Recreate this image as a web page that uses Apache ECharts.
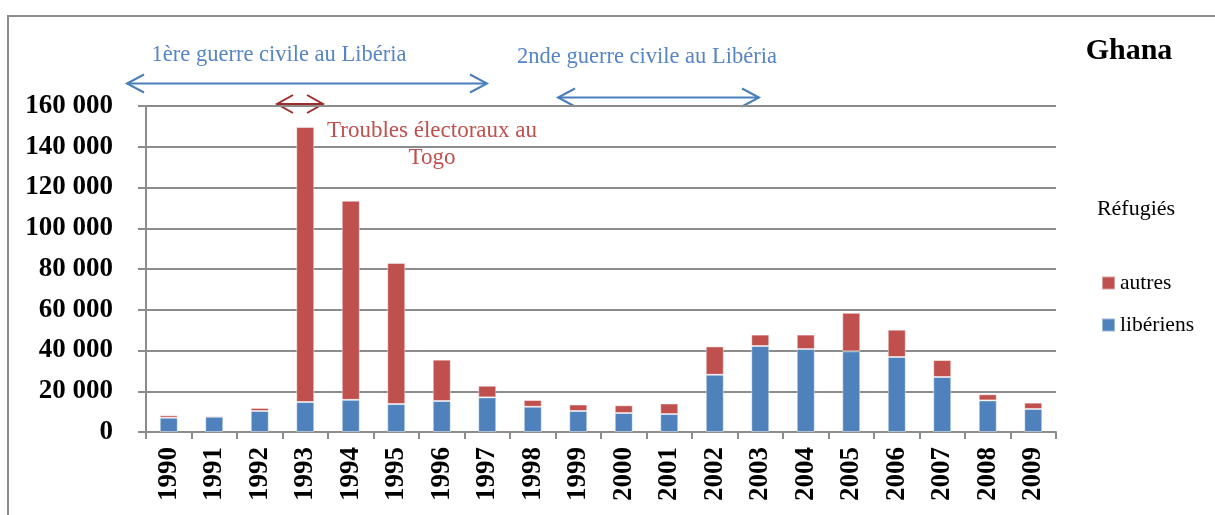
<!DOCTYPE html>
<html>
<head>
<meta charset="utf-8">
<script src="https://cdn.jsdelivr.net/npm/echarts@6/dist/echarts.min.js"></script>
<style>
html,body{margin:0;padding:0;background:#fff;}
#chart{width:1215px;height:515px;}
</style>
</head>
<body>
<div id="chart"></div>
<script>
const years = ['1990','1991','1992','1993','1994','1995','1996','1997','1998','1999','2000','2001','2002','2003','2004','2005','2006','2007','2008','2009'];
const liberiens = [7000, 7500, 10300, 14700, 15800, 13700, 15200, 17000, 12400, 10300, 9300, 8800, 28100, 42200, 40700, 39600, 36800, 27000, 15500, 11300];
const autres = [1200, 600, 1500, 135000, 97700, 69300, 20300, 5700, 3300, 3200, 3800, 5200, 13900, 5600, 7100, 18900, 13400, 8300, 3000, 3100];
const yTicks = [0, 20000, 40000, 60000, 80000, 100000, 120000, 140000, 160000];

const SERIF = '"Liberation Serif", "DejaVu Serif", serif';
const BLUE = '#4F81BD', RED = '#C0504D';
const BLUE_TXT = '#5585C4', RED_TXT = '#C0504D';
const BLUE_ARR = '#4A7EBB', RED_ARR = '#9B2D2A';

function fmt(v){ return String(v).replace(/\B(?=(\d{3})+(?!\d))/g, ' '); }

function arrow(x1, x2, y, color, hw, hh){
  return [
    {type:'line', shape:{x1:x1, y1:y, x2:x2, y2:y}, style:{stroke:color, lineWidth:2}},
    {type:'polyline', shape:{points:[[x1+hw, y-hh],[x1, y],[x1+hw, y+hh]]}, style:{stroke:color, lineWidth:2, fill:null}},
    {type:'polyline', shape:{points:[[x2-hw, y-hh],[x2, y],[x2-hw, y+hh]]}, style:{stroke:color, lineWidth:2, fill:null}}
  ];
}

const chart = echarts.init(document.getElementById('chart'));
const option = {
  animation: false,
  backgroundColor: '#fff',
  grid: {left: 146, right: 159, top: 106, bottom: 83, containLabel: false},
  legend: {
    data: ['autres', 'libériens'],
    orient: 'vertical',
    left: 1096, top: 267,
    itemWidth: 13, itemHeight: 13, itemGap: 20,
    icon: 'rect',
    textStyle: {fontFamily: SERIF, fontSize: 21.5, color: '#000'}
  },
  xAxis: {
    type: 'category',
    data: years,
    axisLine: {lineStyle: {color: '#8C8C8C', width: 2}},
    axisTick: {show: true, length: 7, lineStyle: {color: '#8C8C8C', width: 2}},
    axisLabel: {rotate: 90, margin: 15, fontFamily: SERIF, fontWeight: 'bold', fontSize: 27, color: '#000'}
  },
  yAxis: {
    type: 'value',
    min: 0, max: 160000, interval: 20000,
    axisLine: {show: true, lineStyle: {color: '#8C8C8C', width: 2}},
    axisTick: {show: true, length: 8, lineStyle: {color: '#8C8C8C', width: 2}},
    splitLine: {lineStyle: {color: '#8C8C8C', width: 2}},
    axisLabel: {margin: 33, fontFamily: SERIF, fontWeight: 'bold', fontSize: 27, color: '#000', formatter: fmt}
  },
  series: [
    {name: 'libériens', type: 'bar', stack: 'r', data: liberiens, barWidth: 18,
     itemStyle: {color: BLUE, borderColor: 'rgba(255,255,255,0.45)', borderWidth: 1}},
    {name: 'autres', type: 'bar', stack: 'r', data: autres, barWidth: 18,
     itemStyle: {color: RED, borderColor: 'rgba(255,255,255,0.45)', borderWidth: 1}}
  ],
  graphic: [
    {type:'rect', shape:{x:8, y:16, width:1230, height:530}, style:{stroke:'#8C8C8C', lineWidth:2, fill:null}, z:-1},
    {type:'text', x:1129, y:51, style:{text:'Ghana', font:'bold 30px '+SERIF, fill:'#000', align:'center', verticalAlign:'middle'}},
    {type:'text', x:1136, y:209, style:{text:'Réfugiés', font:'22px '+SERIF, fill:'#000', align:'center', verticalAlign:'middle'}},
    {type:'text', x:279, y:55, style:{text:'1ère guerre civile au Libéria', font:'22.5px '+SERIF, fill:BLUE_TXT, align:'center', verticalAlign:'middle'}},
    {type:'text', x:647, y:57, style:{text:'2nde guerre civile au Libéria', font:'22.5px '+SERIF, fill:BLUE_TXT, align:'center', verticalAlign:'middle'}},
    {type:'text', x:432, y:131, style:{text:'Troubles électoraux au', font:'23px '+SERIF, fill:RED_TXT, align:'center', verticalAlign:'middle'}},
    {type:'text', x:432, y:158, style:{text:'Togo', font:'23px '+SERIF, fill:RED_TXT, align:'center', verticalAlign:'middle'}}
  ].concat(arrow(127, 487, 83.5, BLUE_ARR, 17, 9))
   .concat(arrow(558, 759, 97.5, BLUE_ARR, 17, 9))
   .concat(arrow(277, 323, 104, RED_ARR, 16, 9))
};
chart.setOption(option);
</script>
</body>
</html>
